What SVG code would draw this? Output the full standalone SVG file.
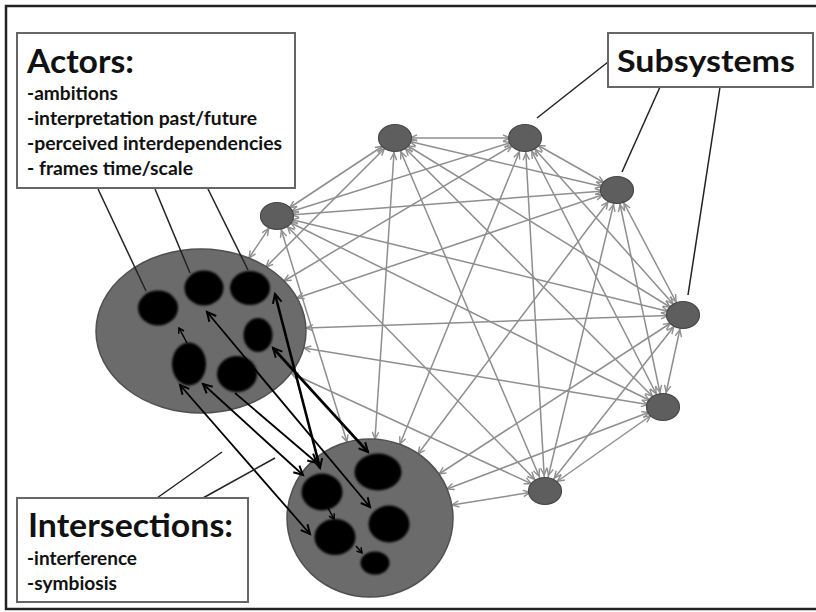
<svg xmlns="http://www.w3.org/2000/svg" width="816" height="612" viewBox="0 0 816 612">
<defs>
<style>
.box{fill:#fff;stroke:#666;stroke-width:2}
.hd{font-family:Lato,'Liberation Sans',sans-serif;font-weight:bold;font-size:33px;fill:#111}
.it{font-family:Lato,'Liberation Sans',sans-serif;font-weight:bold;font-size:18px;fill:#111}
.sn{fill:#5e5e5e;stroke:#474747;stroke-width:1.2}
.big{fill:#6b6b6b;stroke:#505050;stroke-width:1.5}
.in{fill:#050505}
.ptr{stroke:#222;stroke-width:1.5;fill:none}
</style>
<marker id="gs" markerUnits="userSpaceOnUse" viewBox="-30 -10 40 20" markerWidth="40" markerHeight="20" refX="0" refY="0" orient="auto-start-reverse"><path d="M-22 -3.2L-15 0L-22 3.2" fill="none" stroke="#8e8e8e" stroke-width="1.4"/></marker>
<marker id="g0" markerUnits="userSpaceOnUse" viewBox="-12 -6 15 12" markerWidth="15" markerHeight="12" refX="0" refY="0" orient="auto-start-reverse"><path d="M-7 -3.2L0 0L-7 3.2" fill="none" stroke="#8e8e8e" stroke-width="1.4"/></marker>
<marker id="bk" markerUnits="userSpaceOnUse" viewBox="-14 -8 17 16" markerWidth="17" markerHeight="16" refX="0" refY="0" orient="auto-start-reverse"><path d="M-9 -4.5L0 0L-9 4.5" fill="none" stroke="#000" stroke-width="2"/></marker>
<marker id="bks" markerUnits="userSpaceOnUse" viewBox="-10 -6 12 12" markerWidth="12" markerHeight="12" refX="0" refY="0" orient="auto"><path d="M-5 -3L0 0L-5 3" fill="none" stroke="#000" stroke-width="1.5"/></marker>
<filter id="soft" x="-20%" y="-20%" width="140%" height="140%"><feGaussianBlur stdDeviation="0.9"/></filter>
</defs>
<rect x="0" y="0" width="816" height="612" fill="#fff"/>
<rect x="6" y="6" width="830" height="603" fill="none" stroke="#222" stroke-width="2.5"/>

<g id="connectors" fill="none">
 <g id="net-small" stroke="#8e8e8e" stroke-width="1.5" marker-start="url(#gs)" marker-end="url(#gs)">
  <path d="M277 216L395 138"/><path d="M277 216L525 138"/><path d="M277 216L617 190"/><path d="M277 216L683 315"/><path d="M277 216L663 407"/><path d="M277 216L545 490"/>
  <path d="M395 138L525 138"/><path d="M395 138L617 190"/><path d="M395 138L683 315"/><path d="M395 138L663 407"/><path d="M395 138L545 490"/>
  <path d="M525 138L617 190"/><path d="M525 138L683 315"/><path d="M525 138L663 407"/><path d="M525 138L545 490"/>
  <path d="M617 190L683 315"/><path d="M617 190L663 407"/><path d="M617 190L545 490"/>
  <path d="M683 315L663 407"/><path d="M683 315L545 490"/>
  <path d="M663 407L545 490"/>
 </g>
 <g id="net-big" stroke="#8e8e8e" stroke-width="1.5" marker-start="url(#gs)" marker-end="url(#g0)">
  <path d="M277 216L249 258"/><path d="M395 138L266 267"/><path d="M525 138L284 281"/><path d="M617 190L297 298"/><path d="M683 315L306 328"/><path d="M663 407L304 348"/><path d="M545 490L291 373"/>
  <path d="M277 216L347 442"/><path d="M395 138L375 439"/><path d="M525 138L400 444"/><path d="M617 190L418 454"/><path d="M683 315L439 474"/><path d="M663 407L447 489"/><path d="M545 490L452 505"/>
 </g>
</g>

<g id="subsystem-nodes">
 <ellipse id="s1" class="sn" cx="277" cy="216" rx="16.5" ry="13.5"/>
 <ellipse id="s2" class="sn" cx="395" cy="138" rx="16.5" ry="13.5"/>
 <ellipse id="s3" class="sn" cx="525" cy="138" rx="16.5" ry="13.5"/>
 <ellipse id="s4" class="sn" cx="617" cy="190" rx="16.5" ry="13.5"/>
 <ellipse id="s5" class="sn" cx="683" cy="315" rx="16.5" ry="13.5"/>
 <ellipse id="s6" class="sn" cx="663" cy="407" rx="16.5" ry="13.5"/>
 <ellipse id="s7" class="sn" cx="545" cy="491" rx="16.5" ry="13.5"/>
</g>

<g id="actors-cluster">
 <ellipse class="big" cx="201" cy="331" rx="105" ry="82"/>
</g>
<g id="intersections-cluster">
 <ellipse class="big" cx="370" cy="518" rx="83" ry="79"/>
</g>

<g id="interaction-arrows" fill="none" stroke="#000">
 <g stroke-width="2.6" marker-start="url(#bk)" marker-end="url(#bk)">
  <path d="M275 294L320 468"/>
  <path d="M273 348L368 452"/>
 </g>
 <g stroke-width="1.8" marker-start="url(#bk)" marker-end="url(#bk)">
  <path d="M207 312L370 507"/>
  <path d="M180 385L310 534"/>
  <path d="M203 384L303 475"/>
 </g>
 <path d="M235 393L317 463" stroke-width="1.8" marker-end="url(#bk)"/>
 <g stroke-width="1.4" marker-end="url(#bks)">
  <path d="M187 343L179 328"/>
  <path d="M328 508L334 519"/>
  <path d="M356 546L362 553"/>
 </g>
</g>

<g id="actor-ellipses" class="in" filter="url(#soft)">
 <ellipse id="a1" cx="158" cy="308" rx="20" ry="17.5"/>
 <ellipse id="a2" cx="204" cy="288" rx="19.5" ry="17.5"/>
 <ellipse id="a3" cx="250" cy="288" rx="20" ry="17"/>
 <ellipse id="a4" cx="258" cy="335" rx="14.5" ry="17"/>
 <ellipse id="a5" cx="189" cy="364" rx="17" ry="21.5"/>
 <ellipse id="a6" cx="237" cy="374" rx="20" ry="18"/>
</g>
<g id="intersection-ellipses" class="in" filter="url(#soft)">
 <ellipse id="b1" cx="378" cy="472" rx="23.5" ry="18.5"/>
 <ellipse id="b2" cx="322" cy="492" rx="20.5" ry="18.5"/>
 <ellipse id="b3" cx="389" cy="524" rx="20.5" ry="18.5"/>
 <ellipse id="b4" cx="335" cy="537" rx="20.5" ry="18"/>
 <ellipse id="b5" cx="375" cy="563" rx="14.5" ry="11.5"/>
</g>

<g id="pointers" class="ptr">
 <path d="M98 189L146 291"/>
 <path d="M155 189L190 273"/>
 <path d="M208 189L248 270"/>
 <path d="M608 62L537 118"/>
 <path d="M660 87L622 172"/>
 <path d="M720 87L688 295"/>
 <path d="M157 498L222 452"/>
 <path d="M203 498L275 458"/>
</g>

<g id="actors-box">
 <rect class="box" x="17" y="33" width="278" height="155"/>
 <text class="hd" x="27" y="73" textLength="107" lengthAdjust="spacingAndGlyphs">Actors:</text>
 <text class="it" x="27" y="100" textLength="91" lengthAdjust="spacingAndGlyphs">-ambitions</text>
 <text class="it" x="27" y="125" textLength="230" lengthAdjust="spacingAndGlyphs">-interpretation past/future</text>
 <text class="it" x="27" y="150" textLength="255" lengthAdjust="spacingAndGlyphs">-perceived interdependencies</text>
 <text class="it" x="27" y="175" textLength="166" lengthAdjust="spacingAndGlyphs">- frames time/scale</text>
</g>

<g id="subsystems-box">
 <rect class="box" x="608" y="33" width="205" height="54"/>
 <text class="hd" x="617" y="72" style="font-size:31px" textLength="178" lengthAdjust="spacingAndGlyphs">Subsystems</text>
</g>

<g id="intersections-box">
 <rect class="box" x="17" y="498" width="231" height="104"/>
 <text class="hd" x="28" y="537" textLength="205" lengthAdjust="spacingAndGlyphs">Intersections:</text>
 <text class="it" x="27" y="565" textLength="110" lengthAdjust="spacingAndGlyphs">-interference</text>
 <text class="it" x="27" y="590" textLength="90" lengthAdjust="spacingAndGlyphs">-symbiosis</text>
</g>
</svg>
